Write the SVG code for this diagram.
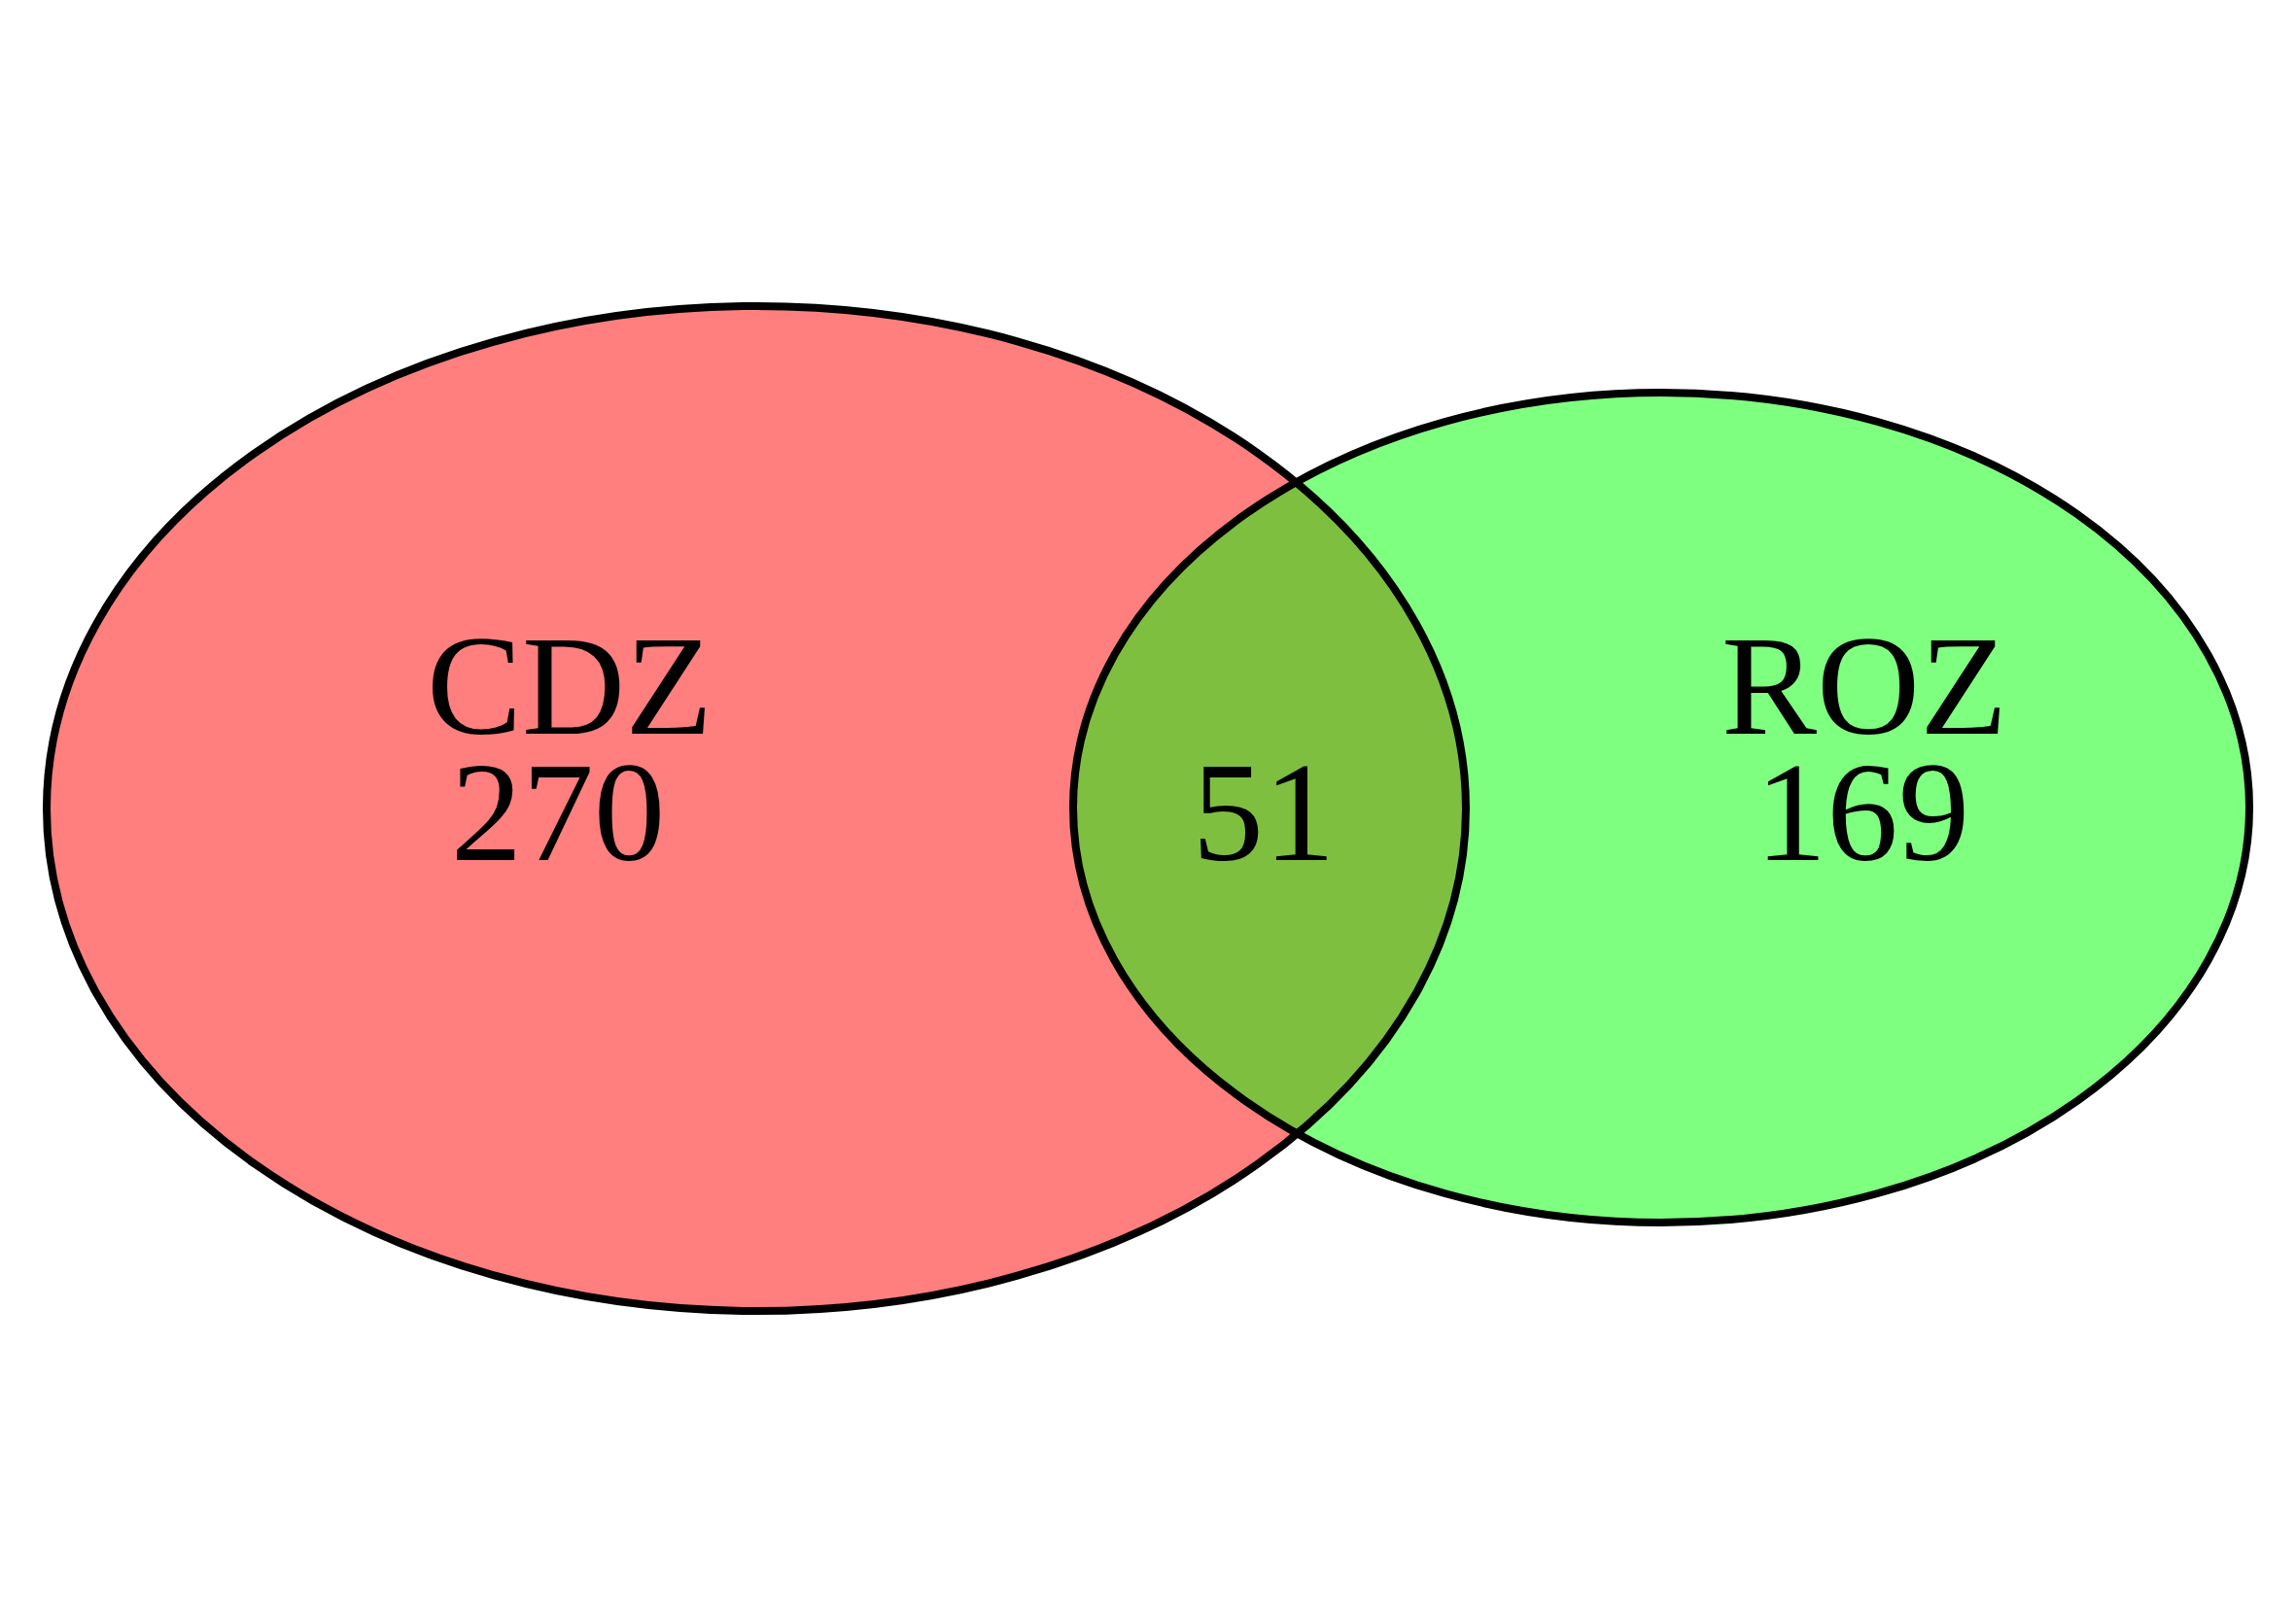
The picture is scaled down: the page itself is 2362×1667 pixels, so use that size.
<svg xmlns="http://www.w3.org/2000/svg" width="2362" height="1667" viewBox="0 0 2362 1667">
<defs>
<style>
.lbl{font-size:147px;fill:#000;text-anchor:middle}
</style>
</defs>
<rect width="2362" height="1667" fill="#fff"/>
<g id="fills">
<ellipse cx="778" cy="832" rx="730" ry="517" fill="#ff0000" fill-opacity="0.5"/>
<ellipse cx="1709" cy="831" rx="605" ry="427" fill="#00ff00" fill-opacity="0.5"/>
</g>
<g id="node-CDZ" font-family="'Liberation Serif', Tinos, 'Times New Roman', serif">
<ellipse cx="778" cy="832" rx="730" ry="517" fill="none" stroke="#000" stroke-width="8"/>
<text class="lbl" x="586" y="755">CDZ</text>
<text class="lbl" x="574" y="885">270</text>
</g>
<g id="node-ROZ" font-family="'Liberation Serif', Tinos, 'Times New Roman', serif">
<ellipse cx="1709" cy="831" rx="605" ry="427" fill="none" stroke="#000" stroke-width="8"/>
<text class="lbl" x="1918" y="755">ROZ</text>
<text class="lbl" x="1916" y="885">169</text>
</g>
<g id="node-overlap" font-family="'Liberation Serif', Tinos, 'Times New Roman', serif">
<text class="lbl" x="1300" y="885">51</text>
</g>
<g id="connectors"></g>
</svg>
